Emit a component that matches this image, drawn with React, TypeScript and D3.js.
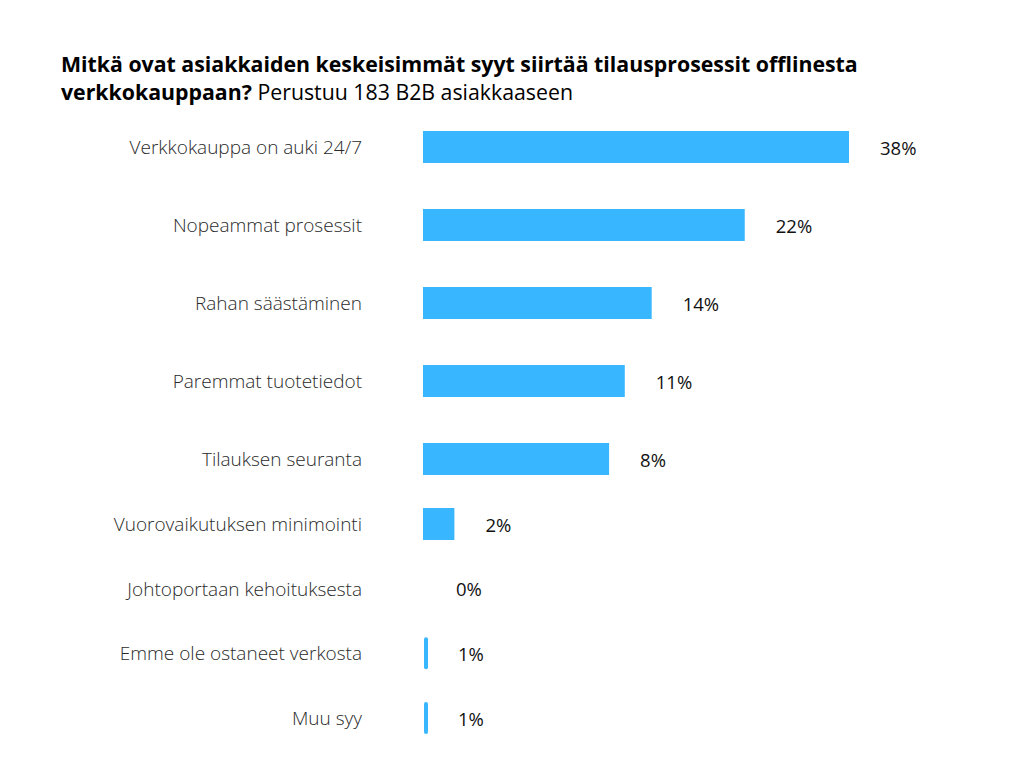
import { useEffect, useRef } from 'react'
import * as d3 from 'd3'

const CATEGORIES = [
  'Verkkokauppa on auki 24/7',
  'Nopeammat prosessit',
  'Rahan säästäminen',
  'Paremmat tuotetiedot',
  'Tilauksen seuranta',
  'Vuorovaikutuksen minimointi',
  'Johtoportaan kehoituksesta',
  'Emme ole ostaneet verkosta',
  'Muu syy',
]
// percentages printed next to the bars
const VALUES = [38, 22, 14, 11, 8, 2, 0, 1, 1]
// bar lengths as drawn in the picture (same % units)
const BAR_LENGTHS = [38, 28.7, 20.4, 18.0, 16.6, 2.8, 0, 0.36, 0.36]

const TITLE_BOLD_1 = 'Mitkä ovat asiakkaiden keskeisimmät syyt siirtää tilausprosessit offlinesta'
const TITLE_BOLD_2 = 'verkkokauppaan?'
const TITLE_REST = ' Perustuu 183 B2B asiakkaaseen'

export default function App() {
  const svgRef = useRef<SVGSVGElement>(null)

  useEffect(() => {
    if (!svgRef.current) return
    const W = 1024
    const H = 768
    const svg = d3.select(svgRef.current).attr('viewBox', `0 0 ${W} ${H}`)
    svg.selectAll('*').remove()

    svg.append('rect').attr('width', W).attr('height', H).attr('fill', '#ffffff')

    // Title
    const title = svg.append('text').attr('x', 61).attr('font-family', 'Open Sans').attr('font-size', 21.3).attr('fill', '#000')
    title.append('tspan').attr('x', 61).attr('y', 72).attr('font-weight', 700).text(TITLE_BOLD_1)
    title.append('tspan').attr('x', 61).attr('y', 100).attr('font-weight', 700).text(TITLE_BOLD_2)
    title.append('tspan').attr('font-weight', 400).text(TITLE_REST)

    const x0 = 423
    const barH = 32
    const xScale = d3.scaleLinear().domain([0, 38]).range([0, 426])
    // rows are spaced wider at the top than at the bottom, so a piecewise scale on the row index
    const yScale = d3.scaleLinear().domain([0, 4, 5, CATEGORIES.length - 1]).range([147, 459, 524, 718])

    const g = svg.append('g')

    CATEGORIES.forEach((c, i) => {
      const cy = yScale(i)
      const len = xScale(BAR_LENGTHS[i])
      const thin = len < 8
      if (len > 0) {
        g.append('rect')
          .attr('x', thin ? x0 + 1 : x0).attr('y', cy - barH / 2)
          .attr('width', len).attr('height', barH)
          .attr('rx', thin ? len / 2 : 0)
          .attr('fill', '#38b6ff')
      }
      g.append('text')
        .attr('x', 362).attr('y', cy)
        .attr('text-anchor', 'end').attr('dominant-baseline', 'central')
        .attr('font-family', 'Open Sans').attr('font-weight', 300).attr('font-size', 19)
        .attr('fill', '#2a2a2a').text(c)
      g.append('text')
        .attr('x', x0 + Math.max(len, 2) + 31).attr('y', cy)
        .attr('dominant-baseline', 'central')
        .attr('font-family', 'Open Sans').attr('font-size', 18.5)
        .attr('fill', '#111').text(`${VALUES[i]}%`)
    })

    return () => { svg.selectAll('*').remove() }
  }, [])

  return (
    <svg ref={svgRef} width={1024} height={768} style={{ position: 'absolute', left: 0, top: 0 }} />
  )
}
